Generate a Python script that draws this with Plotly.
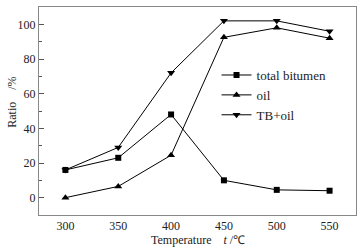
import plotly.graph_objects as go

temps = [300, 350, 400, 450, 500, 550]
total_bitumen = [16, 23, 48, 10, 4.5, 4]
oil = [0, 6.5, 24.5, 92.5, 98, 92]
tb_oil = [16, 29, 72, 102, 102, 96]
y_ticks = [0, 20, 40, 60, 80, 100]
x_ticks = [300, 350, 400, 450, 500, 550]

font = dict(family="Liberation Serif, Times New Roman, serif", size=12, color="#222")

fig = go.Figure()
fig.add_trace(go.Scatter(x=temps, y=total_bitumen, name="total bitumen", mode="lines+markers",
                         line=dict(color="black", width=1), marker=dict(symbol="square", size=6, color="black")))
fig.add_trace(go.Scatter(x=temps, y=oil, name="oil", mode="lines+markers",
                         line=dict(color="black", width=1), marker=dict(symbol="triangle-up", size=7, color="black")))
fig.add_trace(go.Scatter(x=temps, y=tb_oil, name="TB+oil", mode="lines+markers",
                         line=dict(color="black", width=1), marker=dict(symbol="triangle-down", size=7, color="black")))

fig.update_layout(
    width=363, height=247,
    margin=dict(l=39, r=7, t=7, b=32, autoexpand=False),
    paper_bgcolor="white", plot_bgcolor="white",
    font=font,
    showlegend=True,
    legend=dict(x=0.56, y=0.745, xanchor="left", yanchor="top", bgcolor="rgba(0,0,0,0)",
                font=dict(family="Liberation Serif, serif", size=13, color="#222"),
                tracegroupgap=0, itemwidth=30),
    annotations=[
        dict(text="Temperature &nbsp;&nbsp;&nbsp;<i>t</i> /℃", xref="paper", yref="paper",
             x=0.5, y=-0.075, xanchor="center", yanchor="top", showarrow=False, font=font),
        dict(text="Ratio &nbsp;&nbsp;&nbsp;/%", xref="paper", yref="paper", textangle=-90,
             x=-0.085, y=0.54, xanchor="center", yanchor="middle", showarrow=False, font=font),
    ],
)
fig.update_xaxes(range=[275, 575], tickvals=x_ticks, ticks="", showgrid=False, zeroline=False,
                 showline=True, linecolor="#888", linewidth=1, mirror=True, automargin=False)
fig.update_yaxes(range=[-10, 110], tickvals=y_ticks, ticks="inside", ticklen=5, tickcolor="#555",
                 minor=dict(dtick=10, ticks="inside", ticklen=3, tickcolor="#555"),
                 showgrid=False, zeroline=False, showline=True, linecolor="#888", linewidth=1, mirror=True,
                 automargin=False)

fig.write_html("out.html", config={"displayModeBar": False},
               post_script="document.body.style.margin='0';document.body.style.overflow='hidden';")
